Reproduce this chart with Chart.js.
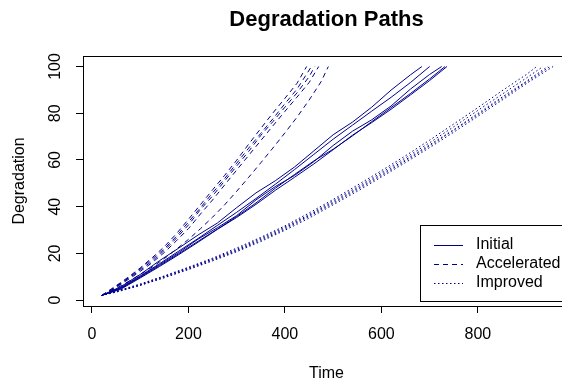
<!DOCTYPE html>
<html>
<head>
<meta charset="utf-8">
<script src="https://cdn.jsdelivr.net/npm/chart.js@4.4.1/dist/chart.umd.min.js"></script>
<style>
  html, body { margin: 0; padding: 0; overflow: hidden; background: #fff; }
  canvas { display: block; }
</style>
</head>
<body>
<canvas id="chart" width="580" height="381"></canvas>
<script>
'use strict';

// groups shown in the legend
var groupNames = ['Initial', 'Accelerated', 'Improved'];

// axis ticks
var timeTicks = [0, 200, 400, 600, 800];
var degTicks = [0, 20, 40, 60, 80, 100];

// degradation paths, [time, degradation]
var initialPaths = [
  [[20,2],[60,5.8],[100,11.0],[140,16.9],[180,22.3],[220,27.9],[260,33.0],[300,39.6],[340,45.9],[380,51.1],[420,57.0],[460,63.9],[500,70.8],[540,76.2],[580,82.6],[620,89.9],[660,96.4],[684,100]],
  [[20,2],[60,5.5],[100,10.4],[140,15.6],[180,21.0],[220,26.4],[260,32.0],[300,37.6],[340,43.5],[380,49.6],[420,55.9],[460,62.4],[500,68.9],[540,74.9],[580,80.9],[620,86.8],[660,93.1],[700,100]],
  [[20,2],[60,5.2],[100,10.1],[140,15.2],[180,20.4],[220,26.1],[260,31.0],[300,36.2],[340,42.9],[380,48.6],[420,53.4],[460,59.3],[500,66.2],[540,72.3],[580,77.2],[620,83.1],[660,90.3],[700,96.6],[725,100]],
  [[20,2],[60,5.0],[100,9.8],[140,14.8],[180,19.9],[220,25.2],[260,30.4],[300,35.8],[340,41.6],[380,47.9],[420,53.8],[460,59.6],[500,64.6],[540,70.3],[580,76.4],[620,82.4],[660,88.4],[700,94.7],[732,100]],
  [[20,2],[60,4.7],[100,9.5],[140,14.4],[180,19.5],[220,24.8],[260,30.3],[300,35.4],[340,41.0],[380,47.0],[420,52.6],[460,58.3],[500,64.4],[540,70.6],[580,76.0],[620,81.7],[660,87.8],[700,94.0],[736,100]]
];

var acceleratedPaths = [
  [[20,2],[40,4.8],[60,7.6],[80,10.6],[100,13.8],[125,18.2],[150,22.9],[175,28.4],[200,34.6],[225,40.9],[250,47.2],[275,53.4],[300,59.9],[325,66.8],[350,73.5],[375,80.1],[400,86.4],[425,92.8],[445,100]],
  [[20,2],[40,4.4],[60,7.1],[80,10.3],[100,13.4],[125,17.6],[150,22.0],[175,27.3],[200,33.4],[225,39.6],[250,45.9],[275,52.0],[300,58.6],[325,65.1],[350,71.4],[375,77.6],[400,84.1],[425,90.3],[455,100]],
  [[20,2],[40,4.6],[60,7.3],[80,9.9],[100,12.9],[125,16.8],[150,21.3],[175,26.5],[200,32.2],[225,38.8],[250,44.6],[275,51.0],[300,57.4],[325,63.7],[350,70.5],[375,76.4],[400,82.6],[425,88.7],[450,95.6],[462,100]],
  [[20,2],[40,4.2],[60,6.8],[80,9.5],[100,12.3],[125,16.1],[150,20.4],[175,25.4],[200,30.6],[225,36.9],[250,42.9],[275,49.3],[300,55.7],[325,62.0],[350,68.3],[375,74.6],[400,80.8],[425,86.9],[450,93.1],[470,100]],
  [[20,2],[40,4.0],[60,6.2],[80,8.5],[100,11.0],[125,14.2],[150,17.8],[175,21.8],[200,26.0],[225,30.6],[250,35.5],[275,40.8],[300,46.6],[325,52.6],[350,58.8],[375,65.1],[400,71.6],[425,78.3],[450,85.6],[475,93.5],[490,100]]
];

var improvedPaths = [
  [[20,2],[50,3.8],[100,6.9],[150,10.4],[200,14.1],[250,18.0],[300,22.3],[350,26.9],[400,31.8],[450,37.3],[500,43.1],[550,49.2],[600,55.4],[650,61.8],[700,68.5],[750,75.4],[800,82.4],[850,89.6],[900,96.5],[922,100]],
  [[20,2],[50,3.5],[100,6.5],[150,10.1],[200,13.9],[250,17.6],[300,21.8],[350,26.5],[400,31.3],[450,36.6],[500,42.5],[550,48.4],[600,54.6],[650,60.9],[700,67.4],[750,74.2],[800,81.2],[850,88.1],[900,95.0],[935,100]],
  [[20,2],[50,3.7],[100,6.8],[150,10.2],[200,13.6],[250,17.5],[300,21.4],[350,26.0],[400,30.9],[450,36.2],[500,41.9],[550,47.8],[600,53.9],[650,60.1],[700,66.5],[750,73.0],[800,79.9],[850,86.9],[900,93.6],[945,100]],
  [[20,2],[50,3.4],[100,6.3],[150,9.7],[200,13.3],[250,17.1],[300,21.1],[350,25.5],[400,30.4],[450,35.8],[500,41.4],[550,47.3],[600,53.3],[650,59.6],[700,66.0],[750,72.7],[800,79.4],[850,86.3],[900,93.2],[950,100]],
  [[20,2],[50,3.6],[100,6.4],[150,9.6],[200,13.1],[250,16.8],[300,20.7],[350,25.1],[400,29.9],[450,35.1],[500,40.8],[550,46.6],[600,52.7],[650,58.9],[700,65.3],[750,71.9],[800,78.7],[850,85.6],[900,92.6],[956,100]]
];

var lineColor = '#00008B';
var dashes = [[], [5, 4], [1.5, 2.5]];
var font = "'Liberation Sans', Arial, sans-serif";

var datasets = [];
[initialPaths, acceleratedPaths, improvedPaths].forEach(function (paths, g) {
  paths.forEach(function (path) {
    datasets.push({
      label: groupNames[g],
      data: path.map(function (p) { return { x: p[0], y: p[1] }; }),
      borderColor: lineColor,
      borderWidth: 1,
      borderDash: dashes[g],
      pointRadius: 0,
      tension: 0,
      fill: false
    });
  });
});

// R style frame, rotated y labels, titles and legend
var rFrame = {
  id: 'rFrame',
  afterDraw: function (chart) {
    var ctx = chart.ctx;
    var a = chart.chartArea;
    var ys = chart.scales.y;
    ctx.save();
    ctx.strokeStyle = '#000';
    ctx.lineWidth = 1;
    ctx.strokeRect(Math.round(a.left) + 0.5, Math.round(a.top) + 0.5,
                   Math.round(a.right - a.left), Math.round(a.bottom - a.top));

    ctx.fillStyle = '#000';
    ctx.font = '16px ' + font;
    ctx.textAlign = 'center';
    ctx.textBaseline = 'alphabetic';
    degTicks.forEach(function (v) {
      ctx.save();
      ctx.translate(60, ys.getPixelForValue(v));
      ctx.rotate(-Math.PI / 2);
      ctx.fillText(String(v), 0, 0);
      ctx.restore();
    });

    // axis titles
    ctx.fillText('Time', (a.left + a.right) / 2, 378);
    ctx.save();
    ctx.translate(24, (a.top + a.bottom) / 2);
    ctx.rotate(-Math.PI / 2);
    ctx.fillText('Degradation', 0, 0);
    ctx.restore();

    ctx.font = 'bold 22px ' + font;
    ctx.fillText('Degradation Paths', (a.left + a.right) / 2, 26);

    // legend
    ctx.strokeRect(420.5, 225.5, 150, 76);
    ctx.font = '16px ' + font;
    ctx.textAlign = 'left';
    ctx.textBaseline = 'middle';
    groupNames.forEach(function (name, i) {
      var y = 245 + i * 19;
      ctx.strokeStyle = lineColor;
      ctx.setLineDash(dashes[i]);
      ctx.beginPath();
      ctx.moveTo(434, y + 0.5);
      ctx.lineTo(463, y + 0.5);
      ctx.stroke();
      ctx.setLineDash([]);
      ctx.fillText(name, 476, y);
    });
    ctx.restore();
  }
};

var chart = new Chart(document.getElementById('chart'), {
  type: 'line',
  data: { datasets: datasets },
  options: {
    responsive: false,
    animation: false,
    events: [],
    layout: { padding: { top: 56, right: 10, left: 0, bottom: 0 } },
    plugins: { legend: { display: false }, title: { display: false }, tooltip: { enabled: false } },
    scales: {
      x: {
        type: 'linear',
        min: -18.6,
        max: 991,
        afterBuildTicks: function (scale) {
          scale.ticks = timeTicks.map(function (v) { return { value: v }; });
        },
        afterFit: function (scale) { scale.height = 75; },
        grid: { drawOnChartArea: false, drawTicks: true, tickLength: 7, color: '#000', lineWidth: 1 },
        border: { display: false },
        ticks: { color: '#000', font: { family: font, size: 16 }, padding: 12, maxRotation: 0 }
      },
      y: {
        type: 'linear',
        min: -2.5,
        max: 104.5,
        afterBuildTicks: function (scale) {
          scale.ticks = degTicks.map(function (v) { return { value: v }; });
        },
        afterFit: function (scale) { scale.width = 83; },
        grid: { drawOnChartArea: false, drawTicks: true, tickLength: 7, color: '#000', lineWidth: 1 },
        border: { display: false },
        ticks: { display: false }
      }
    }
  },
  plugins: [rFrame]
});
</script>
</body>
</html>
